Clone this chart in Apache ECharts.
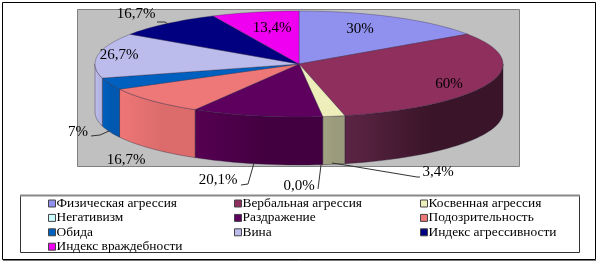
<!DOCTYPE html>
<html><head><meta charset="utf-8">
<style>html,body{margin:0;padding:0;background:#fff}#c{width:600px;height:265px}</style>
<script src="https://cdn.jsdelivr.net/npm/echarts@6/dist/echarts.min.js"></script>
</head><body><div id="c"></div>
<script>
const categories = ['Физическая агрессия','Вербальная агрессия','Косвенная агрессия','Негативизм','Раздражение','Подозрительность','Обида','Вина','Индекс агрессивности','Индекс враждебности'];
const values = [30, 60, 3.4, 0, 20.1, 16.7, 7, 26.7, 16.7, 13.4];
const valueLabels = ['30%','60%','3,4%','0,0%','20,1%','16,7%','7%','26,7%','16,7%','13,4%'];

const colors = ['#9090ee','#8e2f5e','#eeeebb','#ccffff','#5e005e','#ee7777','#0060c0','#bcbcec','#000080','#f000f0'];
const wallColors = [null,['#5c2545','#3a1428'],['#a4a484','#9a9a7c'],null,['#560052','#420040'],['#ef7676','#dc6c6c'],['#0060c0','#0058b0'],['#c0c0f0','#b4b4e2'],null,null];
const labelPos = [[360,29],[449,84],[438,172],[299,186],[218,180],[126,160],[78,132],[119,55],[136,14],[272,28]];
const leaders = [null,null,[[332,163],[345,165],[417,177],[420,177]],[[318,189],[321,165]],[[241,185],[248,184],[254,163]],null,[[91,136],[100,135],[109,131]],null,[[157,22],[165,22],[168,24]],null];
const G = {cx:299, cy:64, rx:204, ry:53, depth:48};

const total = values.reduce((a,b)=>a+b,0);
const starts = []; { let s=0; values.forEach(v=>{starts.push(s); s+=v/total*360;}); }
const pt = (deg,dy)=>{const r=deg*Math.PI/180; return [G.cx+G.rx*Math.sin(r), G.cy-G.ry*Math.cos(r)+(dy||0)];};
function arc(a,b,dy){const n=Math.max(2,Math.ceil(Math.abs(b-a)/2)); const out=[]; for(let i=0;i<=n;i++) out.push(pt(a+(b-a)*i/n,dy)); return out;}

function renderSlice(i){
  const a=starts[i], b=a+values[i]/total*360, kids=[];
  const wa=Math.max(a,90), wb=Math.min(b,270);
  if(wb>wa && wallColors[i]){
    kids.push({type:'polygon',shape:{points:arc(wa,wb,0).concat(arc(wb,wa,G.depth))},
      style:{fill:{type:'linear',x:0,y:0,x2:1,y2:0,colorStops:[{offset:0,color:wallColors[i][0]},{offset:.55,color:wallColors[i][1]},{offset:1,color:wallColors[i][1]}]},
      stroke:'rgba(40,30,50,.55)',lineWidth:.7}});
  }
  if(b>a){
    kids.push({type:'polygon',shape:{points:[[G.cx,G.cy]].concat(arc(a,b,0))},
      style:{fill:colors[i],stroke:'rgba(50,40,70,.5)',lineWidth:.7}});
  }
  if(leaders[i]) kids.push({type:'polyline',shape:{points:leaders[i]},style:{fill:null,stroke:'#333',lineWidth:1}});
  kids.push({type:'text',x:labelPos[i][0],y:labelPos[i][1],
    style:{text:valueLabels[i],font:'15px "Liberation Serif", serif',fill:'#000',align:'center',verticalAlign:'middle'}});
  return {type:'group',children:kids};
}

const legendStyle = {orient:'vertical',itemWidth:7,itemHeight:7,itemGap:1.4,padding:0,icon:'rect',selectedMode:false,
  itemStyle:{borderColor:'#444',borderWidth:1},
  textStyle:{fontFamily:'"Liberation Serif", "Times New Roman", serif',fontSize:13.4,color:'#000',lineHeight:13,padding:[0,0,0,-4]}};
const col = k=>categories.filter((_,i)=>i%3===k);

const chart = echarts.init(document.getElementById('c'),null,{renderer:'canvas'});
chart.setOption({
  animation:false,
  graphic:[
    {type:'rect',z:-5,silent:true,shape:{x:2.5,y:2.5,width:593,height:257},style:{fill:'#fff',stroke:'#000',lineWidth:1}},
    {type:'line',z:-5,silent:true,shape:{x1:3,y1:260.5,x2:596,y2:260.5},style:{stroke:'#777',lineWidth:1}},
    {type:'rect',z:-4,silent:true,shape:{x:77.5,y:9.5,width:442,height:157},style:{fill:'#c0c0c0',stroke:'#808080',lineWidth:1}},
    {type:'rect',z:-4,silent:true,shape:{x:20.5,y:195.5,width:559,height:57},style:{fill:'#fff',stroke:'#333',lineWidth:1}},
    {type:'line',z:-4,silent:true,shape:{x1:20,y1:195.5,x2:580,y2:195.5},style:{stroke:'#888',lineWidth:2}}
  ],
  legend:[
    Object.assign({},legendStyle,{left:48,top:197,data:col(0)}),
    Object.assign({},legendStyle,{left:234,top:197,data:col(1)}),
    Object.assign({},legendStyle,{left:420,top:197,data:col(2)})
  ],
  series:categories.map((name,i)=>({
    type:'custom',name,coordinateSystem:'none',silent:true,clip:false,
    itemStyle:{color:colors[i]},
    data:[[values[i]]],
    renderItem:()=>renderSlice(i)
  }))
});
</script></body></html>
